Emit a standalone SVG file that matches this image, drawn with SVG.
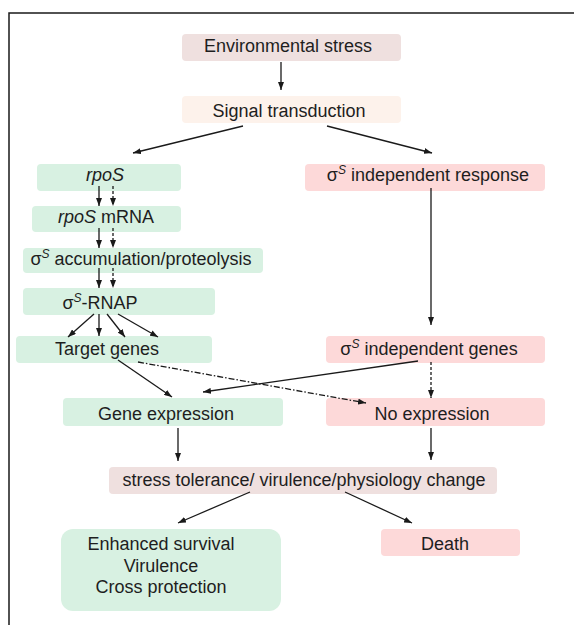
<svg xmlns="http://www.w3.org/2000/svg" width="574" height="625" viewBox="0 0 574 625">
<defs>
<marker id="ah" markerWidth="8" markerHeight="6" refX="8" refY="3" orient="auto" markerUnits="userSpaceOnUse">
<path d="M0,0 L8,3 L0,6 z" fill="#1a1a1a"/>
</marker>
<style>
.t{font-family:"Liberation Sans",Arial,sans-serif;font-size:18px;fill:#1e1e1e;text-anchor:middle}
.i{font-style:italic}
.sup{font-size:12px;font-style:italic}
.g{fill:#d8f1e2}
.p{fill:#fdd9d9}
.b{fill:#efe0df}
.s{fill:#fdf2eb}
.c{stroke:#1a1a1a;stroke-width:1.3;fill:none;marker-end:url(#ah)}
.d{stroke-dasharray:3,2}
.dd{stroke-dasharray:6,2,1.5,2}
</style>
</defs>
<rect width="574" height="625" fill="#fff"/>
<path d="M9,625 L9,13 L574,13" fill="none" stroke="#1a1a1a" stroke-width="1.5"/>

<g id="env"><rect class="b" x="182" y="34" width="219" height="27" rx="4"/><text class="t" x="288" y="52">Environmental stress</text></g>
<g id="signal"><rect class="s" x="182" y="96" width="219" height="27" rx="4"/><text class="t" x="289" y="117">Signal transduction</text></g>
<g id="rpos"><rect class="g" x="37" y="164" width="144" height="27" rx="4"/><text class="t i" x="105" y="181">rpoS</text></g>
<g id="mrna"><rect class="g" x="32" y="206" width="149" height="26" rx="4"/><text class="t" x="106" y="223"><tspan class="i">rpoS</tspan> mRNA</text></g>
<g id="accum"><rect class="g" x="23" y="248" width="240" height="25" rx="4"/><text class="t" x="141" y="265">σ<tspan class="sup" dy="-7">S</tspan><tspan dy="7"> accumulation/proteolysis</tspan></text></g>
<g id="rnap"><rect class="g" x="23" y="288" width="192" height="27" rx="4"/><text class="t" x="100" y="309">σ<tspan class="sup" dy="-7">S</tspan><tspan dy="7">-RNAP</tspan></text></g>
<g id="target"><rect class="g" x="16" y="336" width="196" height="27" rx="4"/><text class="t" x="107" y="355">Target genes</text></g>
<g id="indresp"><rect class="p" x="305" y="164" width="240" height="27" rx="4"/><text class="t" x="428" y="181">σ<tspan class="sup" dy="-7">S</tspan><tspan dy="7"> independent response</tspan></text></g>
<g id="indgenes"><rect class="p" x="326" y="336" width="219" height="27" rx="4"/><text class="t" x="429" y="355">σ<tspan class="sup" dy="-7">S</tspan><tspan dy="7"> independent genes</tspan></text></g>
<g id="geneexpr"><rect class="g" x="63" y="398" width="220" height="28" rx="4"/><text class="t" x="166" y="420">Gene expression</text></g>
<g id="noexpr"><rect class="p" x="326" y="398" width="219" height="28" rx="4"/><text class="t" x="432" y="420">No expression</text></g>
<g id="stress"><rect class="b" x="109" y="467" width="388" height="27" rx="4"/><text class="t" x="304" y="486">stress tolerance/ virulence/physiology change</text></g>
<g id="survival"><rect class="g" x="61" y="529" width="220" height="82" rx="12"/><text class="t" x="161" y="550">Enhanced survival</text><text class="t" x="161" y="572">Virulence</text><text class="t" x="161" y="593">Cross protection</text></g>
<g id="death"><rect class="p" x="381" y="529" width="139" height="27" rx="4"/><text class="t" x="445" y="550">Death</text></g>

<g id="connectors">
<line class="c" x1="281" y1="62" x2="281" y2="90"/>
<line class="c" x1="243" y1="126" x2="133" y2="153"/>
<line class="c" x1="327" y1="126" x2="432" y2="153"/>
<line class="c" x1="99" y1="186" x2="99" y2="206"/>
<line class="c d" x1="113" y1="186" x2="113" y2="206"/>
<line class="c" x1="99" y1="228" x2="99" y2="248"/>
<line class="c d" x1="113" y1="228" x2="113" y2="248"/>
<line class="c" x1="99" y1="268" x2="99" y2="288"/>
<line class="c d" x1="113" y1="268" x2="113" y2="288"/>
<line class="c" x1="94" y1="314" x2="68" y2="337"/>
<line class="c" x1="99" y1="314" x2="99" y2="336"/>
<line class="c" x1="107" y1="314" x2="125" y2="337"/>
<line class="c" x1="118" y1="314" x2="158" y2="337"/>
<line class="c" x1="431" y1="188" x2="431" y2="325"/>
<line class="c" x1="118" y1="360" x2="172" y2="397"/>
<line class="c dd" x1="138" y1="362" x2="366" y2="403"/>
<line class="c" x1="418" y1="361" x2="203" y2="392"/>
<line class="c d" x1="431" y1="362" x2="431" y2="398"/>
<line class="c" x1="178" y1="428" x2="178" y2="461"/>
<line class="c" x1="431" y1="428" x2="431" y2="460"/>
<line class="c" x1="250" y1="492" x2="178" y2="523"/>
<line class="c" x1="345" y1="492" x2="412" y2="523"/>
</g>
</svg>
